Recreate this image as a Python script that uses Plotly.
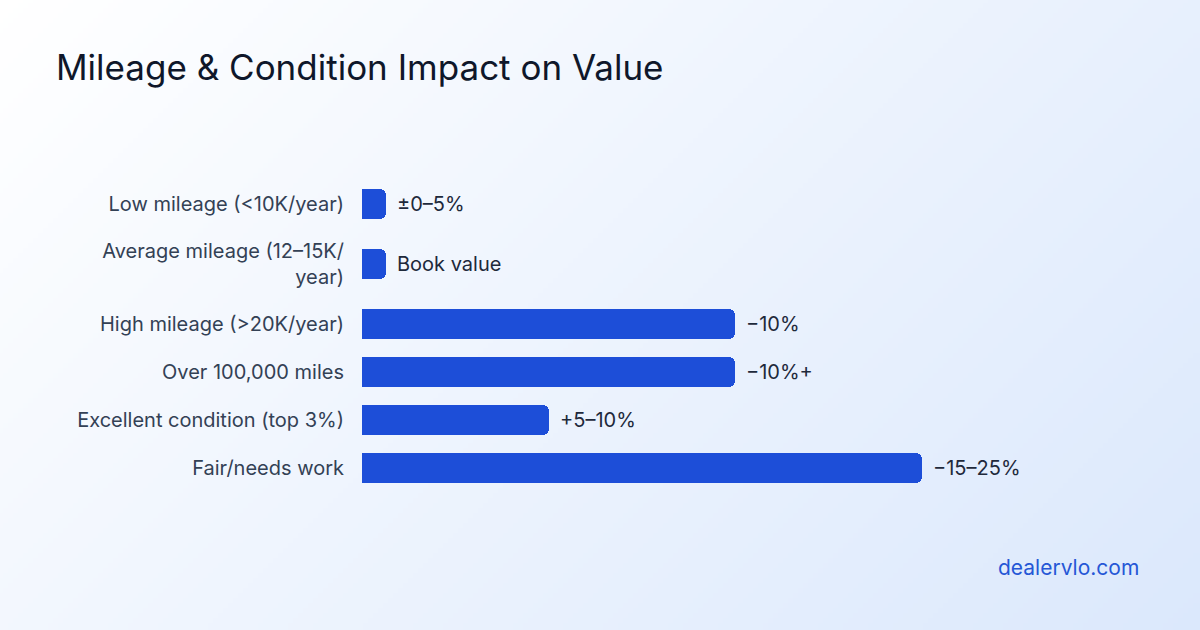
import base64, struct, zlib
import plotly.graph_objects as go

# ---- data ----
categories = [
    "Low mileage (<10K/year)",
    "Average mileage (12–15K/<br>year)",
    "High mileage (>20K/year)",
    "Over 100,000 miles",
    "Excellent condition (top 3%)",
    "Fair/needs work",
]
values = [0.65, 0.65, 10, 10, 5, 15]
value_labels = ["±0–5%", "Book value", "−10%", "−10%+", "+5–10%", "−15–25%"]

TITLE = "Mileage & Condition Impact on Value"
BRAND = "dealervlo.com"

# ---- layout geometry ----
W, H = 1200, 630
LEFT, RIGHT_EDGE = 362, 1108
TOP = 180
XMAX = 20

# row heights depend on number of label lines
centers = []
acc = 0
for c in categories:
    n = c.count("<br>") + 1
    h = 24 + 24 * n
    centers.append(acc + h / 2)
    acc += h
total = acc
BOTTOM = TOP + total

# ---- gradient background image ----
def make_png(w, h):
    c0 = (255, 255, 255)
    c1 = (219, 232, 252)
    rows = []
    for j in range(h):
        row = bytearray([0])
        for i in range(w):
            x = (i + 0.5) / w * W
            y = (j + 0.5) / h * H
            t = ((x - W / 2) + (y - H / 2)) / (W + H) + 0.5
            t = min(max(t, 0), 1)
            row += bytes(int(round(c0[k] + (c1[k] - c0[k]) * t)) for k in range(3))
        rows.append(bytes(row))
    raw = b"".join(rows)

    def chunk(tag, data):
        return struct.pack(">I", len(data)) + tag + data + struct.pack(">I", zlib.crc32(tag + data) & 0xffffffff)

    png = b"\x89PNG\r\n\x1a\n"
    png += chunk(b"IHDR", struct.pack(">IIBBBBB", w, h, 8, 2, 0, 0, 0))
    png += chunk(b"IDAT", zlib.compress(raw, 9))
    png += chunk(b"IEND", b"")
    return "data:image/png;base64," + base64.b64encode(png).decode()

bg = make_png(240, 126)
pw = RIGHT_EDGE - LEFT
ph = BOTTOM - TOP

FONT = "Inter"
BAR = "#1d4ed8"

fig = go.Figure(
    go.Bar(
        x=values,
        y=centers,
        orientation="h",
        width=30,
        marker=dict(color=BAR, cornerradius=6, line=dict(width=0)),
        hoverinfo="skip",
    )
)

annotations = []
for v, yc, lab in zip(values, centers, value_labels):
    annotations.append(dict(
        x=v, y=yc, xref="x", yref="y", text=lab, showarrow=False,
        xanchor="left", yanchor="middle", xshift=9,
        font=dict(family=FONT, size=20, color="#1e293b"),
    ))
annotations.append(dict(
    x=(1141 - LEFT) / pw, y=1 - (567 - TOP) / ph, xref="paper", yref="paper",
    text=BRAND, showarrow=False, xanchor="right", yanchor="middle",
    font=dict(family=FONT, size=21, color="#2557d6"),
))

fig.update_layout(
    width=W, height=H,
    margin=dict(l=LEFT, r=W - RIGHT_EDGE, t=TOP, b=H - BOTTOM, pad=0),
    paper_bgcolor="#eef3fd",
    plot_bgcolor="rgba(0,0,0,0)",
    showlegend=False,
    bargap=0,
    title=dict(
        text=TITLE, x=56 / W, xref="container", xanchor="left",
        y=1 - 55 / H, yref="container", yanchor="top",
        font=dict(family=FONT, size=35, color="#0f172a"),
    ),
    xaxis=dict(range=[0, XMAX], visible=False, fixedrange=True),
    yaxis=dict(
        range=[total, 0], tickvals=centers, ticktext=categories,
        showgrid=False, zeroline=False, showline=False, ticks="",
        ticklabelstandoff=17,
        tickfont=dict(family=FONT, size=20, color="#334155"),
        fixedrange=True,
    ),
    images=[dict(
        source=bg, xref="paper", yref="paper",
        x=-LEFT / pw, y=1 + TOP / ph, sizex=W / pw, sizey=H / ph,
        xanchor="left", yanchor="top", sizing="stretch", layer="below",
    )],
    annotations=annotations,
)

fig.write_html("out.html", config={"displayModeBar": False})
